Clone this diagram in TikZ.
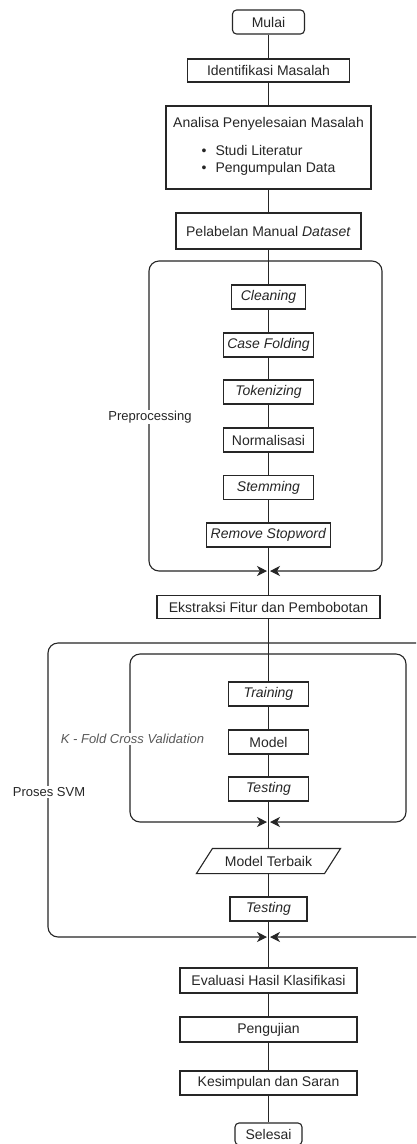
\documentclass[tikz,border=0pt]{standalone}
\usepackage{fontspec}
\setmainfont{Liberation Sans}
\usetikzlibrary{arrows.meta}

\begin{document}
\begin{tikzpicture}[x=1pt, y=-1pt, line width=1.1pt,
    box/.style={rectangle, draw=black!85, fill=white, text=black!85, inner sep=0pt,
      minimum height=24pt, font=\fontsize{14}{17}\selectfont},
    startend/.style={box, rounded corners=4pt},
    grouplabel/.style={fill=white, inner sep=1pt, text=black!85, font=\fontsize{13}{15}\selectfont},
    groupclose/.style={-{Stealth[length=10pt, width=10pt, inset=3pt]}, rounded corners=10pt, draw=black!85},
    link/.style={draw=black!85}]
    % Fix the page to the size of the reference.
    \clip (0,0) rectangle (416,1144);
    \fill[white] (0,0) rectangle (416,1144);
    % Points where the groups close on the main line.
    \coordinate (preJoin) at (268.5,571);
    \coordinate (foldJoin) at (268.5,822);
    \coordinate (svmJoin) at (268.5,937);
    % Draw the three groups, each closing with two arrows.
    \draw[groupclose] (268.5,261) -| (149,571) -- ([xshift=-1.5pt]preJoin);
    \draw[groupclose] (268.5,261) -| (382,571) -- ([xshift=1.5pt]preJoin);
    \draw[groupclose] (268.5,643) -| (48,937) -- ([xshift=-1.5pt]svmJoin);
    \draw[groupclose] (268.5,643) -| (440,937) -- ([xshift=1.5pt]svmJoin);
    \draw[groupclose] (268.5,654) -| (130,822) -- ([xshift=-1.5pt]foldJoin);
    \draw[groupclose] (268.5,654) -| (406,822) -- ([xshift=1.5pt]foldJoin);
    % Draw the steps from top to bottom.
    \node[startend, minimum width=72pt] (mulai) at (268.5,22) {Mulai};
    \node[box, minimum width=162pt, minimum height=23pt] (identifikasi) at (268.5,70.5) {Identifikasi Masalah};
    \node[box, minimum width=205pt, minimum height=83pt, align=center] (analisa) at (268.5,147.5)
      {Analisa Penyelesaian Masalah\\[12pt]\begin{tabular}{@{}l@{\hspace{9pt}}l@{}}\textbullet & Studi Literatur\\ \textbullet & Pengumpulan Data\end{tabular}};
    \node[box, minimum width=185pt, minimum height=36pt] (pelabelan) at (268.5,231) {Pelabelan Manual \textit{Dataset}};
    \node[box, minimum width=74pt] (cleaning) at (268.5,297) {\textit{Cleaning}};
    \node[box, minimum width=90pt] (folding) at (268.5,345) {\textit{Case Folding}};
    \node[box, minimum width=90pt] (tokenizing) at (268.5,392) {\textit{Tokenizing}};
    \node[box, minimum width=90pt] (normalisasi) at (268.5,440) {Normalisasi};
    \node[box, minimum width=90pt] (stemming) at (268.5,487.5) {\textit{Stemming}};
    \node[box, minimum width=124pt] (stopword) at (268.5,535) {\textit{Remove Stopword}};
    \node[box, minimum width=223pt, minimum height=23pt] (ekstraksi) at (268.5,607) {Ekstraksi Fitur dan Pembobotan};
    \node[box, minimum width=80pt] (training) at (268.5,694) {\textit{Training}};
    \node[box, minimum width=80pt] (model) at (268.5,742) {Model};
    \node[box, minimum width=80pt] (testingFold) at (268.5,789) {\textit{Testing}};
    \node[box, draw=none, fill=none, minimum width=127pt] (terbaik) at (268.5,861) {Model Terbaik};
    \draw[draw=black!85] ([xshift=8pt]terbaik.north west) -- ([xshift=8pt]terbaik.north east)
      -- ([xshift=-8pt]terbaik.south east) -- ([xshift=-8pt]terbaik.south west) -- cycle;
    \node[box, minimum width=77pt] (testingSvm) at (268.5,909) {\textit{Testing}};
    \node[box, minimum width=177pt, minimum height=25pt] (evaluasi) at (268.5,980.5) {Evaluasi Hasil Klasifikasi};
    \node[box, minimum width=177pt, minimum height=25pt] (pengujian) at (268.5,1029.5) {Pengujian};
    \node[box, minimum width=177pt] (kesimpulan) at (268.5,1083) {Kesimpulan dan Saran};
    \node[startend, minimum width=67pt, minimum height=22pt] (selesai) at (268.5,1134) {Selesai};
    % Group labels sit on the left edge of each group.
    \node[grouplabel] (preLabel) at (150,417) {Preprocessing};
    \node[grouplabel, text=black!65] (foldLabel) at (132.5,739) {\textit{K - Fold Cross Validation}};
    \node[grouplabel] (svmLabel) at (49,792) {Proses SVM};
    % Connect the steps.
    \draw[link] (mulai) -- (identifikasi);
    \draw[link] (identifikasi) -- (analisa);
    \draw[link] (analisa) -- (pelabelan);
    \draw[link] (pelabelan) -- (cleaning);
    \draw[link] (cleaning) -- (folding);
    \draw[link] (folding) -- (tokenizing);
    \draw[link] (tokenizing) -- (normalisasi);
    \draw[link] (normalisasi) -- (stemming);
    \draw[link] (stemming) -- (stopword);
    \draw[link] (stopword) -- (ekstraksi);
    \draw[link] (ekstraksi) -- (training);
    \draw[link] (training) -- (model);
    \draw[link] (model) -- (testingFold);
    \draw[link] (testingFold) -- (terbaik);
    \draw[link] (terbaik) -- (testingSvm);
    \draw[link] (testingSvm) -- (evaluasi);
    \draw[link] (evaluasi) -- (pengujian);
    \draw[link] (pengujian) -- (kesimpulan);
    \draw[link] (kesimpulan) -- (selesai);
\end{tikzpicture}
\end{document}
